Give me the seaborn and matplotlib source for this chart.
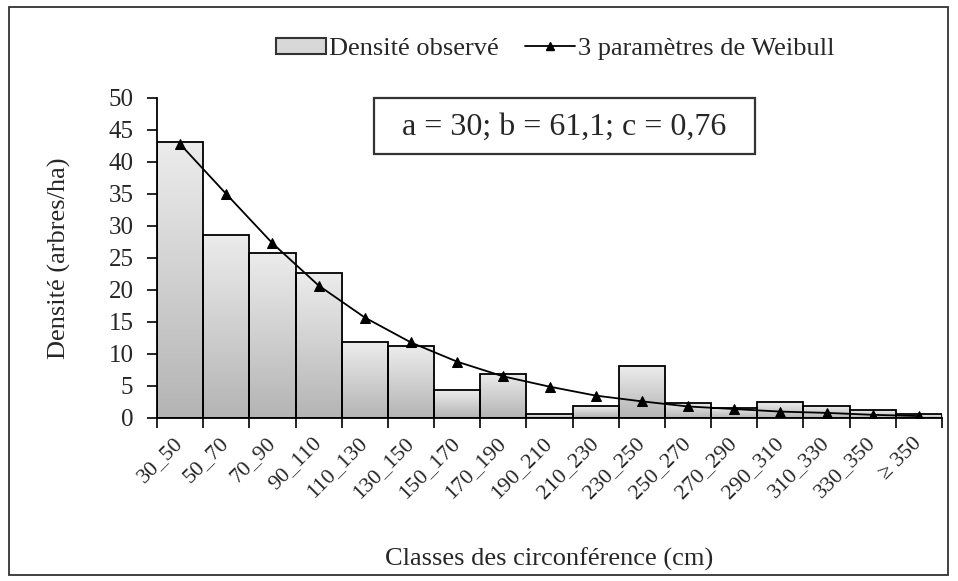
import numpy as np
import pandas as pd
import matplotlib
matplotlib.use("Agg")
import matplotlib.pyplot as plt
import seaborn as sns
from matplotlib.patches import Rectangle
from matplotlib.lines import Line2D
from matplotlib.colors import LinearSegmentedColormap

classes = ["30_50", "50_70", "70_90", "90_110", "110_130", "130_150", "150_170",
           "170_190", "190_210", "210_230", "230_250", "250_270", "270_290",
           "290_310", "310_330", "330_350", "≥ 350"]
observed = [43.1, 28.6, 25.8, 22.6, 11.8, 11.2, 4.3, 6.9, 0.6, 1.8, 8.1,
            2.4, 1.6, 2.5, 1.8, 1.2, 0.6]
weibull = [42.8, 35.0, 27.3, 20.7, 15.7, 11.8, 8.8, 6.5, 4.9, 3.5, 2.6,
           1.8, 1.4, 1.0, 0.8, 0.5, 0.3]
y_ticks = [0, 5, 10, 15, 20, 25, 30, 35, 40, 45, 50]
params_text = "a = 30; b = 61,1; c = 0,76"

sns.set_theme(style="white")
plt.rcParams["font.family"] = ["Liberation Serif", "DejaVu Serif"]

fig = plt.figure(figsize=(9.58, 5.81), dpi=100)
ax = fig.add_axes([157 / 958, 1 - 418 / 581, (942 - 157) / 958, (418 - 98) / 581])

df = pd.DataFrame({"classe": classes, "densite": observed})
sns.barplot(data=df, x="classe", y="densite", width=1.0, color="#dcdcdc",
            edgecolor="black", linewidth=1.3, saturation=1, ax=ax, zorder=2)

# vertical gradient in each bar
cmap = LinearSegmentedColormap.from_list("g", ["#b4b4b4", "#ececec"])
grad = np.linspace(0, 1, 256).reshape(-1, 1)
for p in ax.patches:
    x0, y0 = p.get_x(), p.get_y()
    w, h = p.get_width(), p.get_height()
    im = ax.imshow(grad, extent=(x0, x0 + w, y0, y0 + h), origin="lower",
                   aspect="auto", cmap=cmap, zorder=2.1, interpolation="bilinear")
    im.set_clip_path(p)
    p.set_facecolor("none")
    p.set_zorder(2.2)

sns.lineplot(x=np.arange(len(classes)), y=weibull, ax=ax, color="black",
             linewidth=1.3, marker="^", markersize=7, markeredgecolor="black",
             markerfacecolor="black", zorder=3)

ax.set_xlim(-0.5, len(classes) - 0.5)
ax.set_ylim(0, 50)
ax.set_yticks(y_ticks)
ax.set_yticklabels([str(v) for v in y_ticks], fontsize=18)
ax.set_xticks(np.arange(len(classes) + 1) - 0.5)
ax.set_xticklabels([])
ax.set_xticks(np.arange(len(classes)), minor=True)
ax.set_xticklabels(classes, minor=True, rotation=45, ha="right", va="center",
                   rotation_mode="anchor", fontsize=16)
ax.tick_params(axis="x", which="major", direction="out", length=7, width=1.2,
               color="black", bottom=True)
ax.tick_params(axis="x", which="minor", length=0, pad=16, bottom=True)
ax.tick_params(axis="y", direction="out", length=7, width=1.2, color="black",
               left=True, pad=10)
for s in ["top", "right"]:
    ax.spines[s].set_visible(False)
for s in ["left", "bottom"]:
    ax.spines[s].set_color("black")
    ax.spines[s].set_linewidth(1.3)
ax.set_xlabel("Classes des circonférence (cm)", fontsize=19, labelpad=0)
ax.xaxis.set_label_coords(0.5, -0.405)
ax.set_ylabel("Densité (arbres/ha)", fontsize=19)
ax.yaxis.set_label_coords(-0.11, 0.5)
ax.grid(False)

# parameter box
fig.patches.append(Rectangle((374 / 958, 1 - 154 / 581), 381 / 958, 56 / 581,
                             transform=fig.transFigure, facecolor="white",
                             edgecolor="#333333", linewidth=1.6, zorder=5))
fig.text(564 / 958, 1 - 127 / 581, params_text, ha="center", va="center",
         fontsize=23, zorder=6)

handles = [Rectangle((0, 0), 1, 1, facecolor="#d8d8d8", edgecolor="#333333",
                     linewidth=1.5),
           Line2D([0], [0], color="black", linewidth=1.3, marker="^",
                  markersize=6, markerfacecolor="black")]
fig.legend(handles, ["Densité observé", "3 paramètres de Weibull"],
           loc="center", bbox_to_anchor=(555 / 958, 1 - 49 / 581), ncol=2,
           frameon=False, fontsize=19, handlelength=1.9, handleheight=0.55,
           handletextpad=0.1, columnspacing=1.0)

fig.patches.append(Rectangle((9 / 958, 6 / 581), 939 / 958, 568 / 581,
                             transform=fig.transFigure, fill=False,
                             edgecolor="#333333", linewidth=1.3))

fig.savefig("out.png", dpi=100, facecolor="white")
